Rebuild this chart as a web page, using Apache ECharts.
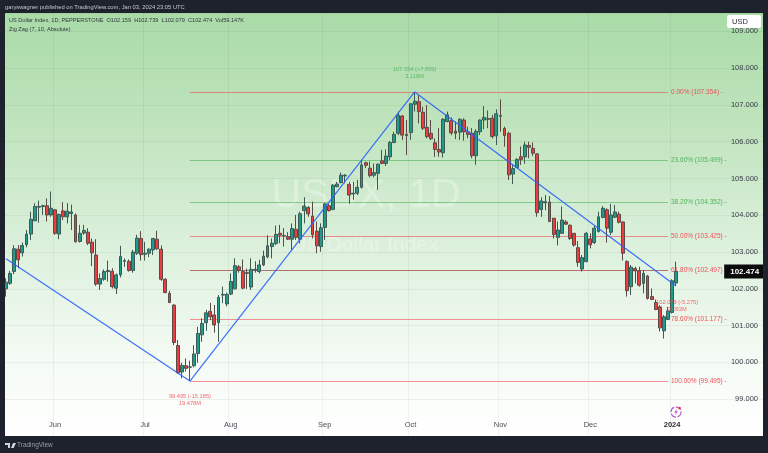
<!DOCTYPE html>
<html><head><meta charset="utf-8">
<style>html,body{margin:0;padding:0;background:#1e222d;overflow:hidden}#c{width:768px;height:453px}</style>
<script src="https://cdn.jsdelivr.net/npm/echarts@6/dist/echarts.min.js"></script>
</head><body><div id="c"></div>
<script>
// [open, close, low, high]
const ohlcA = [
[102.00,102.18,101.79,102.29],[102.15,102.42,102.11,102.49],[102.47,103.09,102.40,103.19],[103.08,102.79,102.56,103.19],[102.98,103.18,102.88,103.26],
[103.20,103.49,103.13,103.60],[103.49,103.89,103.33,104.10],[103.85,104.24,103.85,104.33],[104.22,104.24,103.80,104.40],[104.24,104.26,104.01,104.29],
[104.26,104.01,103.83,104.46],[104.01,104.19,103.96,104.65],[104.15,103.51,103.47,104.16],[103.49,104.02,103.35,104.05],[104.12,103.96,103.87,104.36],
[103.96,104.11,103.78,104.33],[104.05,104.09,103.60,104.29],[104.01,103.28,103.26,104.05],[103.29,103.51,103.26,103.74],[103.52,103.59,103.47,103.74],
[103.54,103.24,103.19,103.65],[103.27,102.98,102.62,103.37],[102.92,102.13,102.08,103.35],[102.13,102.28,101.97,102.42],[102.26,102.47,102.22,102.53],
[102.47,102.50,102.20,102.77],[102.48,102.06,102.01,102.56],[102.02,102.38,101.86,102.42],[102.38,102.88,102.31,103.17],[102.75,102.77,102.60,102.83],
[102.75,102.50,102.47,102.80],[102.50,103.00,102.44,103.06],[102.97,103.38,102.92,103.47],[103.37,102.93,102.77,103.57],[102.94,102.97,102.77,103.28],
[102.97,103.08,102.86,103.10],[103.06,103.37,102.92,103.38],[103.35,103.09,103.06,103.58],[103.08,102.26,102.22,103.18],[102.26,101.90,101.88,102.29],
[101.88,101.63,101.61,101.95],[101.56,100.54,100.47,101.58],[100.46,99.72,99.69,100.61],[99.74,99.92,99.57,99.99],[99.91,99.84,99.75,100.11],
[99.87,99.88,99.50,100.05],[99.91,100.23,99.87,100.47],[100.24,100.79,99.99,100.97],[100.75,101.06,100.56,101.20],[101.08,101.35,100.86,101.43],
[101.39,101.24,101.15,101.62],[101.29,101.02,100.81,101.56],[101.08,101.77,100.56,101.83],[101.83,101.85,101.61,102.06],[101.59,101.85,101.52,101.90],
[101.86,102.20,101.83,102.42],[102.00,102.63,101.99,102.83],[102.60,102.50,102.44,102.65]];
const ohlcB = [
[102.47,102.02,101.99,102.80],[102.44,102.42,102.00,102.55],[102.05,102.53,101.97,102.83],[102.51,102.53,102.44,102.75],[102.47,102.65,102.42,102.79],
[102.65,102.89,102.62,103.04],[102.87,103.17,102.83,103.46],[103.15,103.24,102.83,103.37],[103.23,103.48,103.19,103.72],[103.51,103.46,103.24,103.74],
[103.44,103.45,103.15,103.65],[103.42,103.35,103.33,103.54],[103.35,103.64,103.06,103.78],[103.62,103.40,103.33,104.01],[103.35,104.04,103.24,104.10],
[104.13,104.25,103.78,104.49],[104.21,104.04,103.96,104.25],[103.98,103.47,103.37,104.37],[103.57,103.17,102.97,103.83],[103.15,103.66,103.01,103.78],
[103.67,104.31,103.33,104.34],[104.26,104.13,104.10,104.31],[104.16,104.82,104.14,104.85],[104.78,104.85,104.76,104.91],[104.89,105.09,104.87,105.16],
[105.07,105.09,104.87,105.12],[104.84,104.55,104.31,104.91],[104.58,104.60,104.42,104.91],[104.60,104.76,104.55,104.96],[104.76,105.37,104.73,105.50],
[105.43,105.36,105.28,105.46],[105.28,105.08,105.03,105.46],[105.09,105.16,105.03,105.41],[105.14,105.39,104.69,105.41],[105.48,105.41,105.39,105.78],
[105.41,105.61,105.34,105.79],[105.59,105.98,105.50,106.02],[105.98,106.20,105.96,106.27],[106.23,106.72,106.18,106.82],[106.70,106.18,106.05,106.73],
[106.20,106.17,105.64,106.59],[106.25,107.03,106.05,107.05],[107.02,107.10,106.82,107.35],[107.09,106.82,106.50,107.27],[106.80,106.37,106.32,106.95],
[106.39,106.14,106.09,107.00],[106.23,106.08,106.05,106.59],[105.97,105.79,105.59,106.09],[105.79,105.72,105.59,106.37],[105.70,106.61,105.57,106.64],
[106.55,106.73,106.53,106.82],[106.57,106.24,106.18,106.66],[106.29,106.23,106.07,106.55],[106.26,106.61,106.05,106.64],[106.59,106.27,106.03,106.64],
[106.27,106.20,106.09,106.41]];
const ohlcC = [
[106.23,105.62,105.55,106.37],[105.62,106.28,105.37,106.34],[106.27,106.59,106.18,106.61],[106.59,106.66,106.34,106.97],[106.61,106.63,106.37,106.85],
[106.64,106.14,106.09,106.73],[106.16,106.76,105.91,106.88],[106.71,106.69,106.27,107.15],[106.36,106.17,105.87,106.41],[106.23,105.10,104.96,106.27],
[105.12,105.27,104.85,105.37],[105.30,105.52,105.28,105.55],[105.59,105.52,105.37,105.87],[105.59,105.91,105.40,106.00],[105.90,105.85,105.55,106.00],
[105.82,105.69,105.61,105.98],[105.67,104.07,103.96,105.69],[104.16,104.39,103.96,104.49],[104.34,104.37,104.14,104.55],[104.36,103.83,103.83,104.52],
[103.92,103.48,103.37,103.92],[103.40,103.60,103.18,103.83],[103.51,103.87,103.49,104.24],[103.82,103.76,103.74,103.87],[103.73,103.37,103.33,103.75],
[103.51,103.19,103.15,103.51],[103.12,102.72,102.60,103.30],[102.54,102.85,102.47,102.92],[102.74,103.51,102.72,103.55],[103.36,103.20,103.10,103.51],
[103.26,103.65,103.22,103.71],[103.56,103.96,103.53,104.10],[103.94,104.19,103.92,104.25],[104.15,103.65,103.26,104.19],[103.54,104.01,103.46,104.31],
[103.95,104.09,103.92,104.28],[104.03,103.81,103.78,104.10],[103.82,102.97,102.77,103.83],[102.74,101.95,101.79,102.78],[102.06,102.59,101.83,102.65],
[102.55,102.49,102.15,102.60],[102.49,102.10,102.06,102.60],[102.15,102.42,101.88,102.51],[102.35,101.74,101.71,102.38],[101.79,101.71,101.71,102.01],
[101.63,101.44,101.42,101.71],[101.51,100.94,100.84,101.56],[100.86,101.24,100.65,101.29],[101.17,101.40,101.15,101.51],[101.36,102.22,101.33,102.26],
[102.159,102.474,102.079,102.739]];
const monthLabels = ['Jun','Jul','Aug','Sep','Oct','Nov','Dec','2024'];
const monthIndex = [12,34,55,78,99,121,143,163];
const fibLevels = ['0.00%','23.60%','38.20%','50.00%','61.80%','78.60%','100.00%'];
const fibPrices = [107.354,105.499,104.352,103.425,102.497,101.177,99.495];
const zigzagIndex = [0,45,100,164];
const zigzagPrices = [102.82,99.495,107.354,102.079];
const lastClose = 102.474;
const headerText = 'garyswagner published on TradingView.com, Jan 03, 2024 23:05 UTC';
const legendText = 'US Dollar Index, 1D, PEPPERSTONE  O102.159  H102.739  L102.079  C102.474  Vol59.147K';
const indicatorText = 'Zig Zag (7, 10, Absolute)';

const ohlc = ohlcA.concat(ohlcB, ohlcC);
const slotCount = 186;
const categories = Array.from({length: slotCount}, (_, i) => String(i));
const candles = ohlc;
const zigzag = categories.map(() => null);
zigzagIndex.forEach((ix, k) => { zigzag[ix] = zigzagPrices[k]; });

const RED = '#ef4f5a', GREEN = '#4fb35a';
const FONT = '"Liberation Sans", Arial, sans-serif';
const fibColor = l => (l === '23.60%' || l === '38.20%') ? GREEN : RED;
const fibLines = fibLevels.map((l, i) => {
  const c = fibColor(l);
  return [{
    coord: [45, fibPrices[i]],
    lineStyle: {color: l === '61.80%' ? '#a85a5a' : c, width: 1, opacity: l === '61.80%' ? 0.85 : 0.62, type: 'solid'},
    label: {show: true, position: 'end', distance: 3, color: c, opacity: 1, fontSize: 6.5, fontFamily: FONT,
      formatter: l + ' (' + fibPrices[i].toFixed(3) + ') -'}
  }, {coord: [162, fibPrices[i]]}];
});
const pivotLabel = (coord, text, color, off) => ({
  coord, symbol: 'circle', symbolSize: 0,
  label: {show: true, position: 'inside', offset: off, color, fontSize: 5.7, lineHeight: 7, fontFamily: FONT, formatter: text, align: 'center', opacity: .85}
});

const chart = echarts.init(document.getElementById('c'), null, {renderer: 'canvas'});
chart.setOption({
  animation: false,
  backgroundColor: '#1e222d',
  grid: {left: 4, right: 4, top: 13, bottom: 17, show: true, borderWidth: 0,
    backgroundColor: {type: 'linear', x: 0, y: 0, x2: 0, y2: 1, colorStops: [
      {offset: 0, color: '#a9dba7'}, {offset: .3, color: '#c3e5c1'}, {offset: .55, color: '#dcf0dc'},
      {offset: .8, color: '#f3faf3'}, {offset: 1, color: '#ffffff'}]}},
  xAxis: {type: 'category', data: categories, boundaryGap: true,
    axisLine: {show: false}, axisTick: {show: false},
    axisLabel: {inside: true, margin: 7, fontSize: 7.5, fontFamily: FONT, color: '#4a4e57', hideOverlap: false,
      interval: i => monthIndex.includes(i),
      formatter: (v, i) => { const k = monthIndex.indexOf(+v); const s = k < 0 ? '' : monthLabels[k]; return s === '2024' ? '{b|2024}' : s; },
      rich: {b: {fontWeight: 'bold', fontSize: 7.5, color: '#2a2e39', fontFamily: FONT}}},
    splitLine: {show: true, interval: i => monthIndex.includes(i), lineStyle: {color: 'rgba(60,90,60,0.07)', width: 1}}},
  yAxis: {type: 'value', position: 'right', min: 98, max: 109.5, interval: 1, scale: true,
    axisLine: {show: false}, axisTick: {show: false},
    axisLabel: {inside: true, margin: 6, fontSize: 7.5, fontFamily: FONT, color: '#3a3e47', showMinLabel: false, showMaxLabel: false,
      formatter: v => v.toFixed(3)},
    splitLine: {show: true, lineStyle: {color: 'rgba(60,90,60,0.07)', width: 1}}},
  series: [
    {type: 'candlestick', data: candles, barWidth: 3.4, z: 3, clip: true,
     itemStyle: {color: '#1f9a8c', color0: '#ee3b3f', borderColor: '#3f5a52', borderColor0: '#5a4a48', borderWidth: 1},
     markLine: {silent: true, symbol: 'none', z: 2, data: fibLines}},
    {type: 'line', data: zigzag, connectNulls: true, showSymbol: false, symbol: 'none', z: 4,
     lineStyle: {color: '#2962ff', width: 1.2, opacity: .9},
     markPoint: {silent: true, z: 6, data: [
       pivotLabel([100, 107.354], '107.354 (+7.859)\n3.118M', GREEN, [0, -19]),
       pivotLabel([45, 99.495], '99.495 (-15.185)\n19.478M', RED, [0, 19]),
       pivotLabel([164, 102.079], '102.079 (-5.275)\n3.093M', RED, [1, 20]),
       {coord: [164, lastClose], symbol: 'circle', symbolSize: 0,
        label: {show: true, position: 'inside', offset: [68, 0], color: '#fff', backgroundColor: '#0a0a0a', fontWeight: 'bold',
          fontSize: 8, fontFamily: FONT, padding: [3, 5, 3, 6], formatter: lastClose.toFixed(3)}}
     ]}}
  ],
  graphic: {elements: [
    {type: 'text', z: 1, silent: true, style: {x: 366, y: 196, text: 'USDX, 1D', fill: 'rgba(255,255,255,0.3)', font: '41px ' + FONT, textAlign: 'center', textVerticalAlign: 'middle'}},
    {type: 'text', z: 1, silent: true, style: {x: 365, y: 245, text: 'US Dollar Index', fill: 'rgba(255,255,255,0.3)', font: '21px ' + FONT, textAlign: 'center', textVerticalAlign: 'middle'}},
    {type: 'rect', z: 50, silent: true, shape: {x: 0, y: 0, width: 5, height: 453}, style: {fill: '#1e222d'}},
    {type: 'rect', z: 50, silent: true, shape: {x: 763, y: 0, width: 5, height: 453}, style: {fill: '#1e222d'}},
    {type: 'text', z: 60, style: {x: 5, y: 7, text: headerText, fill: '#c4c8d0', font: '5.8px ' + FONT, textVerticalAlign: 'middle'}},
    {type: 'text', z: 60, style: {x: 9, y: 20, text: legendText, fill: '#33363f', font: '5.6px ' + FONT, textVerticalAlign: 'middle'}},
    {type: 'text', z: 60, style: {x: 9, y: 29, text: indicatorText, fill: '#33363f', font: '5.6px ' + FONT, textVerticalAlign: 'middle'}},
    {type: 'rect', z: 60, shape: {x: 727, y: 15, width: 34, height: 13, r: 2}, style: {fill: '#ffffff'}},
    {type: 'text', z: 61, style: {x: 732, y: 21.5, text: 'USD', fill: '#2a2e39', font: '7.5px ' + FONT, textVerticalAlign: 'middle'}},
    {type: 'circle', z: 60, shape: {cx: 676, cy: 412, r: 5}, style: {fill: 'rgba(255,255,255,0)', stroke: '#b455d6', lineWidth: 1.1, lineDash: [6, 1.5]}},
    {type: 'polygon', z: 61, shape: {points: [[677, 408.8], [674.2, 412.6], [675.9, 412.6], [675, 415.2], [677.9, 411.3], [676.2, 411.3]]}, style: {fill: '#b455d6'}},
    {type: 'circle', z: 62, shape: {cx: 679.5, cy: 408, r: 1.3}, style: {fill: '#f23645'}},
    {type: 'polygon', z: 60, shape: {points: [[5, 443], [10, 443], [10, 448], [8, 448], [8, 445], [5, 445]]}, style: {fill: '#d1d4dc'}},
    {type: 'polygon', z: 60, shape: {points: [[11, 448], [13, 443], [16, 443], [13.6, 448]]}, style: {fill: '#d1d4dc'}},
    {type: 'text', z: 60, style: {x: 17, y: 445.5, text: 'TradingView', fill: '#9a9eaa', font: '6.5px ' + FONT, textVerticalAlign: 'middle'}}
  ]}
});
</script></body></html>
